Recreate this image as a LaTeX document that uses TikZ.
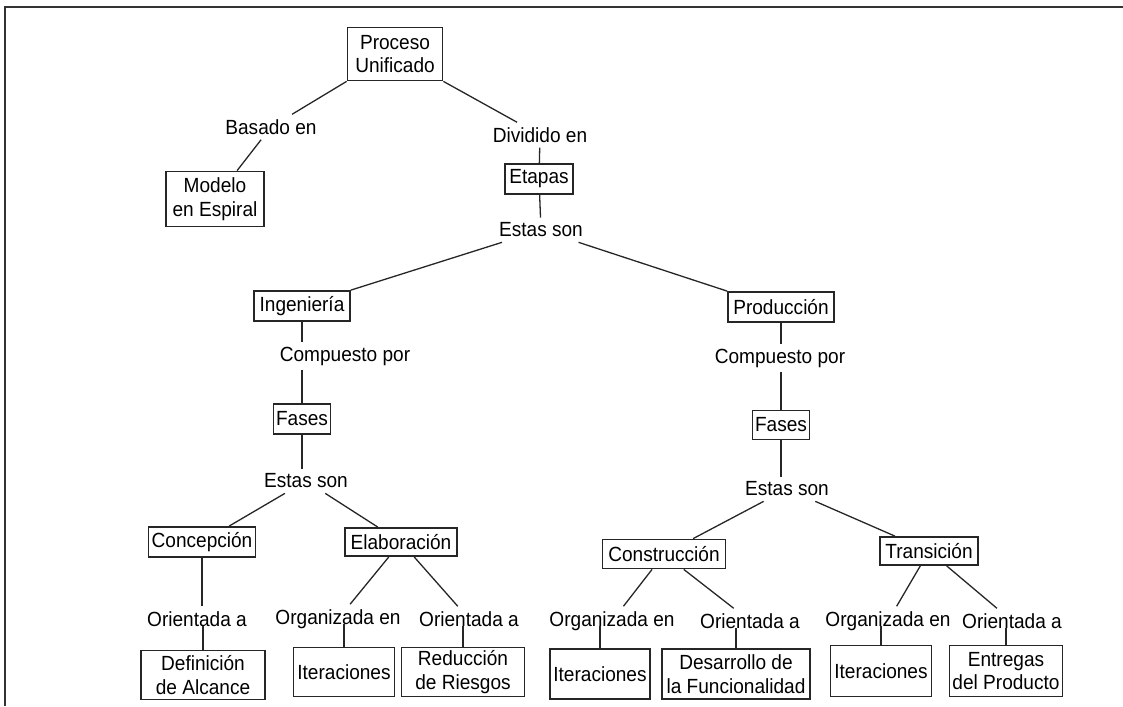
\documentclass[tikz,border=0pt]{standalone}
\usepackage{fontspec}
\setmainfont{Liberation Sans}[FakeStretch=0.93]
\begin{document}
\begin{tikzpicture}[x=1pt, y=-1pt,
    every node/.style={font=\fontsize{20.5}{23.5}\selectfont},
    caja/.style={draw, black!85, text=black, line width=1.8pt, inner sep=1pt, align=center},
    rel/.style={inner sep=5pt},
    lin/.style={line width=1.3pt, black!85}]
    \useasboundingbox (0,0) rectangle (1123,706);
    \draw[line width=2.5pt, black!80] (5,706) -- (5,7) -- (1123,7);

    \node[caja, minimum width=95pt, minimum height=53pt] (pu) at (395,54) {Proceso\\Unificado};
    \node[rel] (bas) at (271,127) {Basado en};
    \node[rel] (div) at (540,135) {Dividido en};
    \node[caja, minimum width=98pt, minimum height=55pt] (mod) at (215,199) {Modelo\\en Espiral};
    \node[caja, minimum width=68pt, minimum height=30pt] (eta) at (539,179) {Etapas};
    \node[rel] (es0) at (541,230) {Estas son};

    \node[caja, minimum width=96pt, minimum height=30pt] (ing) at (302,306) {Ingeniería};
    \node[caja, minimum width=106pt, minimum height=30pt] (prod) at (781,307) {Producción};
    \node[rel] (cp1) at (345,356) {Compuesto por};
    \node[rel] (cp2) at (780,358) {Compuesto por};
    \node[caja, minimum width=57pt, minimum height=30pt] (fa1) at (302,419) {Fases};
    \node[caja, minimum width=57pt, minimum height=29pt] (fa2) at (781,425) {Fases};
    \node[rel] (es1) at (306,481) {Estas son};
    \node[rel] (es2) at (787,489) {Estas son};

    \node[caja, minimum width=107pt, minimum height=30pt] (conc) at (202,542) {Concepción};
    \node[caja, minimum width=112pt, minimum height=28pt] (elab) at (401,542) {Elaboración};
    \node[caja, minimum width=123pt, minimum height=29pt] (cons) at (664,554) {Construcción};
    \node[caja, minimum width=98pt, minimum height=28pt] (tran) at (929,551) {Transición};

    \node[rel] (ori1) at (197,619) {Orientada a};
    \node[rel] (org1) at (338,619) {Organizada en};
    \node[rel] (ori2) at (469,619) {Orientada a};
    \node[rel] (org2) at (612,621) {Organizada en};
    \node[rel] (ori3) at (750,621) {Orientada a};
    \node[rel] (org3) at (888,621) {Organizada en};
    \node[rel] (ori4) at (1012,621) {Orientada a};

    \node[caja, minimum width=124pt, minimum height=49pt] (def) at (203,675) {Definición\\de Alcance};
    \node[caja, minimum width=101pt, minimum height=49pt] (it1) at (344,672) {Iteraciones};
    \node[caja, minimum width=123pt, minimum height=49pt] (red) at (463,672) {Reducción\\de Riesgos};
    \node[caja, minimum width=100pt, minimum height=50pt] (it2) at (600,674) {Iteraciones};
    \node[caja, minimum width=148pt, minimum height=50pt] (des) at (736,674) {Desarrollo de\\la Funcionalidad};
    \node[caja, minimum width=101pt, minimum height=51pt] (it3) at (881,671) {Iteraciones};
    \node[caja, minimum width=113pt, minimum height=51pt] (ent) at (1006,671) {Entregas\\del Producto};

    \draw[lin] (pu.south west) -- (bas);
    \draw[lin] (pu.south east) -- (div);
    \draw[lin] (bas) -- (mod);
    \draw[lin] (div) -- (eta);
    \draw[lin] (eta) -- (es0);
    \draw[lin] (es0) -- (ing.north east);
    \draw[lin] (es0) -- (prod.north west);

    \draw[lin] (ing) -- (ing |- cp1.north);
    \draw[lin] (fa1 |- cp1.south) -- (fa1);
    \draw[lin] (fa1) -- (fa1 |- es1.north);
    \draw[lin] (prod) -- (prod |- cp2.north);
    \draw[lin] (fa2 |- cp2.south) -- (fa2);
    \draw[lin] (fa2) -- (fa2 |- es2.north);

    \draw[lin] (es1) -- (conc);
    \draw[lin] (es1) -- (elab);
    \draw[lin] (es2) -- (cons);
    \draw[lin] (es2) -- (tran);

    \draw[lin] (conc) -- (conc |- ori1.north);
    \draw[lin] (elab) -- (org1);
    \draw[lin] (elab) -- (ori2);
    \draw[lin] (cons) -- (org2);
    \draw[lin] (cons) -- (ori3);
    \draw[lin] (tran) -- (org3);
    \draw[lin] (tran) -- (ori4);

    \draw[lin] (def.north |- ori1.base) -- (def.north);
    \draw[lin] (it1.north |- org1.base) -- (it1.north);
    \draw[lin] (red.north |- ori2.base) -- (red.north);
    \draw[lin] (it2.north |- org2.base) -- (it2.north);
    \draw[lin] (des.north |- ori3.base) -- (des.north);
    \draw[lin] (it3.north |- org3.base) -- (it3.north);
    \draw[lin] (ent.north |- ori4.base) -- (ent.north);
\end{tikzpicture}
\end{document}
